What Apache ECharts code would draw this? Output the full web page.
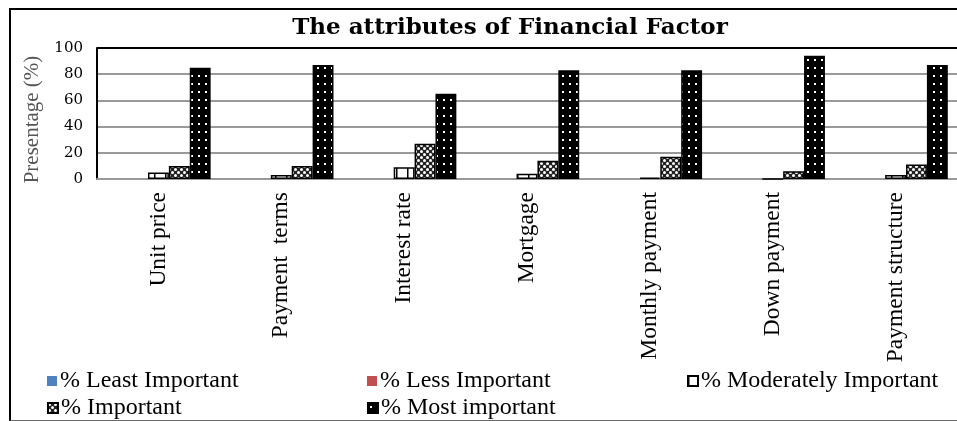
<!DOCTYPE html>
<html>
<head>
<meta charset="utf-8">
<script src="https://cdn.jsdelivr.net/npm/echarts@6/dist/echarts.min.js"></script>
<style>
html,body{margin:0;padding:0;background:#fff;}
#chart{position:absolute;left:0;top:0;width:957px;height:421px;}
#frame{position:absolute;left:9px;top:8px;width:980px;height:410px;border-top:2px solid #000;border-left:2px solid #000;border-bottom:1px solid #666;pointer-events:none;}
</style>
</head>
<body>
<div id="chart"></div>
<div id="frame"></div>
<script>
const categories = ['Unit price', 'Payment  terms', 'Interest rate', 'Mortgage', 'Monthly payment', 'Down payment', 'Payment structure'];
const leastImportant = [0, 0, 0, 0, 0, 0, 0];
const lessImportant = [0, 0, 0, 0, 0, 0, 0];
const moderatelyImportant = [5, 3, 9, 4, 1, 0, 3];
const important = [10, 10, 27, 14, 17, 6, 11];
const mostImportant = [85, 87, 65, 83, 83, 94, 87];
const yTicks = { min: 0, max: 100, interval: 20 };
const seriesNames = ['% Least Important', '% Less Important', '% Moderately Important', '% Important', '% Most important'];

function makePattern(w, h, draw) {
  const c = document.createElement('canvas');
  c.width = w; c.height = h;
  const ctx = c.getContext('2d');
  draw(ctx, w, h);
  return { image: c, repeat: 'repeat' };
}
const modPattern = makePattern(11, 4, (ctx, w, h) => {
  ctx.fillStyle = '#fff'; ctx.fillRect(0, 0, w, h);
  ctx.fillStyle = '#000'; ctx.fillRect(0, 0, 1.5, h);
});
const impPattern = makePattern(6, 6, (ctx, w, h) => {
  ctx.fillStyle = '#222'; ctx.fillRect(0, 0, w, h);
  ctx.fillStyle = '#fff';
  ctx.beginPath(); ctx.arc(1.5, 1.5, 1.5, 0, Math.PI * 2); ctx.fill();
  ctx.beginPath(); ctx.arc(4.5, 4.5, 1.5, 0, Math.PI * 2); ctx.fill();
});
const mostPattern = makePattern(7, 8, (ctx, w, h) => {
  ctx.fillStyle = '#000'; ctx.fillRect(0, 0, w, h);
  ctx.fillStyle = '#fff';
  ctx.fillRect(2, 3, 2, 2);
});

const chart = echarts.init(document.getElementById('chart'), null, { renderer: 'canvas' });
const serifFont = '"Liberation Serif", "Times New Roman", serif';
const legendPos = [
  { left: 47, top: 369 },
  { left: 367, top: 369 },
  { left: 687, top: 369 },
  { left: 47, top: 396 },
  { left: 367, top: 396 }
];
const styles = [
  { color: '#4f81bd' },
  { color: '#c0504d' },
  { color: modPattern, borderColor: '#000', borderWidth: 1.5 },
  { color: impPattern, borderColor: '#000', borderWidth: 1.5 },
  { color: mostPattern, borderColor: '#000', borderWidth: 1.5 }
];
const dataSets = [leastImportant, lessImportant, moderatelyImportant, important, mostImportant];

chart.setOption({
  animation: false,
  backgroundColor: '#fff',
  title: {
    text: 'The attributes of Financial Factor',
    left: 505, top: 12, textAlign: 'center',
    textStyle: { fontFamily: '"DejaVu Serif", serif', fontWeight: 'bold', fontSize: 23, color: '#000' }
  },
  legend: legendPos.map((p, i) => ({
    left: p.left, top: p.top, data: [seriesNames[i]],
    itemWidth: 10, itemHeight: 10, itemGap: 0, padding: 0,
    icon: 'rect',
    textStyle: { fontFamily: serifFont, fontSize: 24, color: '#000', padding: [0, 0, 0, -2] }
  })),
  grid: { left: 97, top: 48, width: 863, bottom: 242, containLabel: false },
  xAxis: {
    type: 'category',
    data: categories,
    axisTick: { show: false },
    axisLine: { lineStyle: { color: '#999', width: 2 } },
    axisLabel: { rotate: 90, margin: 13, fontFamily: serifFont, fontSize: 23.5, color: '#000', interval: 0 }
  },
  yAxis: {
    type: 'value',
    min: yTicks.min, max: yTicks.max, interval: yTicks.interval,
    name: 'Presentage (%)',
    nameLocation: 'middle',
    nameGap: 50,
    nameTextStyle: { fontFamily: serifFont, fontSize: 21, color: '#555', padding: [0, 12, 0, 0] },
    axisLine: { show: true, lineStyle: { color: '#000', width: 2 } },
    axisTick: { show: false },
    axisLabel: { margin: 14, fontFamily: '"DejaVu Serif", serif', fontSize: 15, color: '#000' },
    splitLine: { lineStyle: { color: ['#999', '#999', '#999', '#999', '#999', '#000'], width: 2 } }
  },
  series: dataSets.map((d, i) => ({
    name: seriesNames[i],
    type: 'bar',
    data: d,
    barGap: '0%',
    barCategoryGap: '15%',
    itemStyle: styles[i]
  }))
});
</script>
</body>
</html>
